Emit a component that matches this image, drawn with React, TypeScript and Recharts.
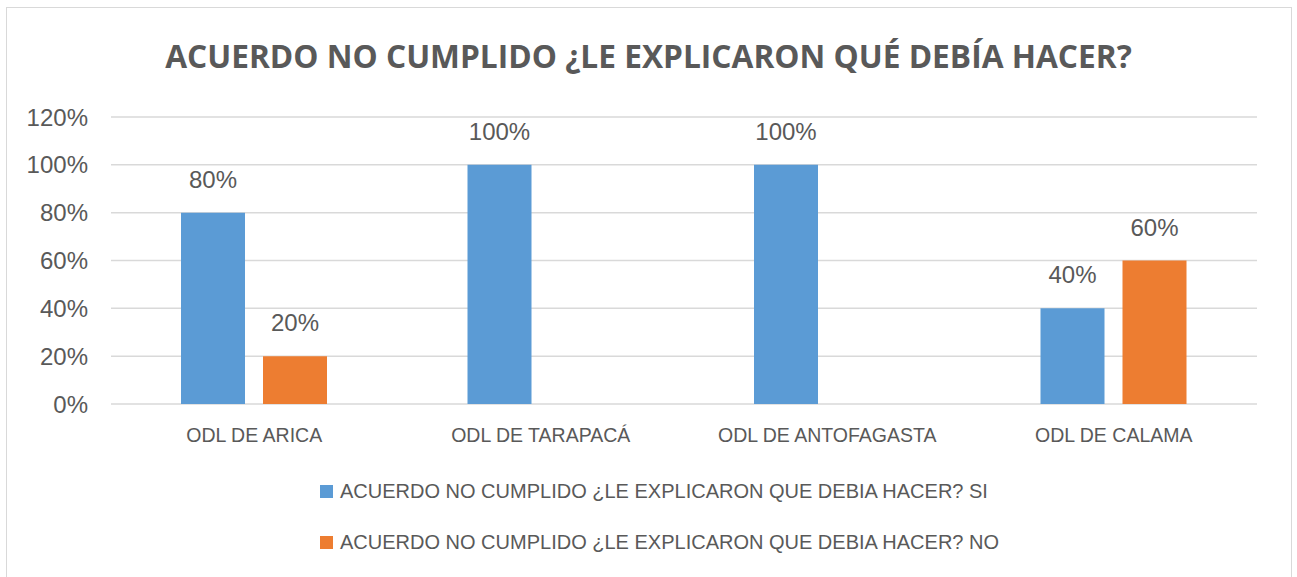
import { BarChart, Bar, XAxis, YAxis, CartesianGrid, Legend, LabelList } from 'recharts';

const categories = ['ODL DE ARICA', 'ODL DE TARAPACÁ', 'ODL DE ANTOFAGASTA', 'ODL DE CALAMA'];
const siValues = [0.8, 1.0, 1.0, 0.4];
const noValues: (number | null)[] = [0.2, null, null, 0.6];
const yTicks = [0, 0.2, 0.4, 0.6, 0.8, 1.0, 1.2];

const SI_LABEL = 'ACUERDO NO CUMPLIDO ¿LE EXPLICARON QUE DEBIA HACER? SI';
const NO_LABEL = 'ACUERDO NO CUMPLIDO ¿LE EXPLICARON QUE DEBIA HACER? NO';
const legendOrder = [SI_LABEL, NO_LABEL];

const data = categories.map((name, i) => ({ name, si: siValues[i], no: noValues[i] }));

const TEXT = '#595959';
const FONT = '"Liberation Sans", Arial, sans-serif';
const pct = (v: any) => (v === null || v === undefined ? '' : `${Math.round(v * 100)}%`);

function LegendRows({ payload }: any) {
  const items = [...(payload || [])].sort(
    (a: any, b: any) => legendOrder.indexOf(a.value) - legendOrder.indexOf(b.value)
  );
  return (
    <div style={{ display: 'flex', flexDirection: 'column' }}>
      {items.map((item: any) => (
        <div key={item.value} style={{ height: 51, display: 'flex', alignItems: 'center' }}>
          <span style={{ width: 13, height: 13, background: item.color, marginRight: 7, display: 'inline-block' }} />
          <span style={{ fontFamily: FONT, fontSize: 20, color: TEXT, whiteSpace: 'nowrap' }}>{item.value}</span>
        </div>
      ))}
    </div>
  );
}

export default function App() {
  return (
    <div style={{ position: 'absolute', left: 0, top: 0, width: 1297, height: 577, background: '#fff', overflow: 'hidden' }}>
      <div
        style={{
          position: 'absolute', left: 6, top: 7, width: 1284, height: 570,
          border: '1px solid #d9d9d9', borderBottom: 'none',
        }}
      />
      <div
        style={{
          position: 'absolute', left: 0, top: 34, width: 1297, textAlign: 'center',
          fontFamily: '"Open Sans", sans-serif', fontWeight: 700, fontSize: 31.7, color: TEXT,
        }}
      >
        ACUERDO NO CUMPLIDO ¿LE EXPLICARON QUÉ DEBÍA HACER?
      </div>
      <BarChart
        width={1297}
        height={577}
        data={data}
        margin={{ top: 117, right: 40, bottom: 133, left: 0 }}
        barSize={64}
        barGap={18}
        style={{ position: 'absolute', left: 0, top: 0 }}
      >
        <CartesianGrid vertical={false} stroke="#d9d9d9" strokeWidth={1.5} />
        <XAxis
          dataKey="name"
          axisLine={false}
          tickLine={false}
          tickSize={0}
          tickMargin={24}
          height={40}
          tick={{ fill: TEXT, fontSize: 19.5, fontFamily: FONT }}
        />
        <YAxis
          domain={[0, 1.2]}
          ticks={yTicks}
          tickFormatter={pct}
          axisLine={false}
          tickLine={false}
          tickSize={0}
          tickMargin={23}
          width={111}
          tick={{ fill: TEXT, fontSize: 24, fontFamily: FONT }}
        />
        <Legend
          layout="horizontal"
          verticalAlign="middle"
          align="center"
          content={<LegendRows />}
          wrapperStyle={{ top: 466, left: 320, width: 900, height: 110 }}
        />
        <Bar dataKey="si" name={SI_LABEL} fill="#5B9BD5" isAnimationActive={false}>
          <LabelList dataKey="si" position="top" offset={25} formatter={pct} fill={TEXT} fontSize={24} fontFamily={FONT} />
        </Bar>
        <Bar dataKey="no" name={NO_LABEL} fill="#ED7D31" isAnimationActive={false}>
          <LabelList dataKey="no" position="top" offset={25} formatter={pct} fill={TEXT} fontSize={24} fontFamily={FONT} />
        </Bar>
      </BarChart>
    </div>
  );
}
